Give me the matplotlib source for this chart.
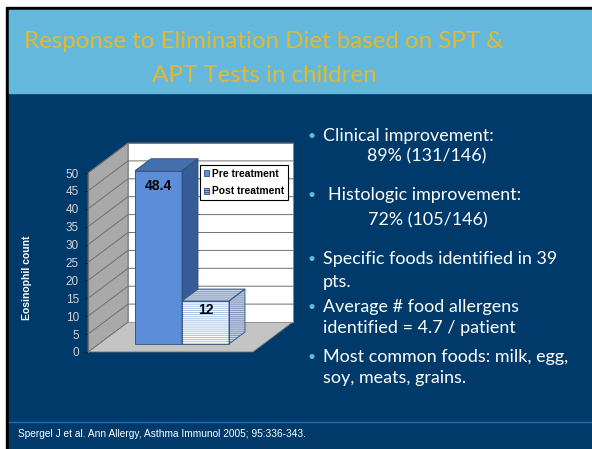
import matplotlib
matplotlib.use("Agg")
import matplotlib.pyplot as plt
from matplotlib.patches import Rectangle, Polygon

# data
categories = ["Pre treatment", "Post treatment"]
values = [48.4, 12]
value_labels = ["48.4", "12"]
y_ticks = [0, 5, 10, 15, 20, 25, 30, 35, 40, 45, 50]
y_label = "Eosinophil count"

title_lines = ["Response to Elimination Diet based on SPT &", "APT Tests in children"]
bullets = [
    ["Clinical improvement:", "89% (131/146)"],
    ["Histologic improvement:", "72% (105/146)"],
    ["Specific foods identified in 39", "pts."],
    ["Average # food allergens", "identified = 4.7 / patient"],
    ["Most common foods: milk, egg,", "soy, meats, grains."],
]
footer = "Spergel J et al. Ann Allergy, Asthma Immunol 2005; 95:336-343."

W, H = 592, 449
NAVY = "#003A6A"
BAND = "#63B8DC"
GOLD = "#E6B82E"
BULLET = "#5DB8E4"

fig = plt.figure(figsize=(W / 100, H / 100), dpi=100)

# slide background in pixel coordinates
bg = fig.add_axes([0, 0, 1, 1])
bg.set_xlim(0, W)
bg.set_ylim(H, 0)
bg.axis("off")
bg.add_patch(Rectangle((0, 0), W, H, color="white"))
bg.add_patch(Rectangle((6, 7), W, H, color="black"))
bg.add_patch(Rectangle((9, 10), W, H, color=NAVY))
bg.add_patch(Rectangle((9, 10), W, 83, color=BAND))
bg.plot([9, W], [422, 422], color="#1E6DB5", lw=1)

tfont = ["Lato", "DejaVu Sans"]
bg.text(264, 42, title_lines[0], color=GOLD, fontsize=17.4, family=tfont,
        ha="center", va="center")
bg.text(264, 75, title_lines[1], color=GOLD, fontsize=17.4, family=tfont,
        ha="center", va="center")

bullet_y = [(136, 156), (195, 220), (259, 282), (307, 328), (357, 378)]
bullet_x = [(323, 367), (328, 368), (323, 323), (323, 323), (323, 323)]
for (l1, l2), (y1, y2), (x1, x2) in zip(bullets, bullet_y, bullet_x):
    bg.text(312, y1, "\u2022", color=BULLET, fontsize=10, family=tfont,
            ha="center", va="center")
    bg.text(x1, y1, l1, color="white", fontsize=12.9, family=tfont, va="center")
    bg.text(x2, y2, l2, color="white", fontsize=12.9, family=tfont, va="center")

bg.text(18, 434, footer, color="white", fontsize=7.3,
        family=["Liberation Sans", "DejaVu Sans"], va="center")

# chart axes: front plane in data units
PXU, PYU = 47.0, 3.58       # pixels per x unit / per value unit
X0, Y0 = 88, 352            # pixel of (x=0, value=0)
ax = fig.add_axes([20 / W, (H - 360) / H, 280 / W, 230 / H])
ax.set_xlim((20 - X0) / PXU, (300 - X0) / PXU)
ax.set_ylim((Y0 - 360) / PYU, (Y0 - 130) / PYU)
ax.patch.set_alpha(0)

DX, DY = 40 / PXU, 30 / PYU  # full depth offset
XR = 3.51                    # floor width
VTOP = y_ticks[-1]

def P(x, v, z):
    return (x + z * DX, v + z * DY)

# floor and walls
ax.add_patch(Polygon([P(0, 0, 0), P(XR, 0, 0), P(XR, 0, 1), P(0, 0, 1)],
                     facecolor="#C4C4C4", edgecolor="#6E6E6E", lw=0.6, zorder=1))
ax.add_patch(Polygon([P(0, 0, 0), P(0, 0, 1), P(0, VTOP, 1), P(0, VTOP, 0)],
                     facecolor="#A9A9A9", edgecolor="#707070", lw=0.6, zorder=1))
ax.add_patch(Polygon([P(0, 0, 1), P(XR, 0, 1), P(XR, VTOP, 1), P(0, VTOP, 1)],
                     facecolor="white", edgecolor="#8C8C8C", lw=0.6, zorder=1))
for t in y_ticks[1:]:
    xs, ys = zip(P(0, t, 0), P(0, t, 1), P(XR, t, 1))
    ax.plot(xs, ys, color="#6F6F6F", lw=0.7, zorder=2)

# bars
z0, dz = 0.267, 0.4
bottom = z0 * DY
x_front = [1.0, 2.0]
face = ["#5B8DD8", "#A6C3EC"]
top_c = ["#4470AE", "#8E9FB8"]
side_c = ["#355C94", "#7F93B4"]
hatches = [None, "--------"]
plt.rcParams["hatch.linewidth"] = 0.8
label_off = [4.3, 2.5]

for i, (x, v) in enumerate(zip(x_front, values)):
    zb = 3 + 2 * i
    hc = "white" if hatches[i] else face[i]
    ax.bar(x, v, bottom=bottom, width=1, align="edge", color=face[i],
           hatch=hatches[i], edgecolor=hc, lw=0, zorder=zb, label=categories[i])
    ax.add_patch(Rectangle((x, bottom), 1, v, fill=False, edgecolor="#2F4F7F",
                           lw=0.6, zorder=zb + 0.5))
    xb = x - z0 * DX
    top = [P(xb, v, z0), P(xb + 1, v, z0), P(xb + 1, v, z0 + dz), P(xb, v, z0 + dz)]
    side = [P(xb + 1, 0, z0), P(xb + 1, 0, z0 + dz), P(xb + 1, v, z0 + dz), P(xb + 1, v, z0)]
    for poly, c in [(top, top_c[i]), (side, side_c[i])]:
        ax.add_patch(Polygon(poly, facecolor=c, hatch=hatches[i],
                             edgecolor="#C9D6EA" if hatches[i] else c, lw=0, zorder=zb))
        ax.add_patch(Polygon(poly, fill=False, edgecolor="#2F4F7F", lw=0.6, zorder=zb + 0.5))
    ax.text(x + 0.5, bottom + v - label_off[i], value_labels[i], ha="center", va="center",
            fontsize=10, fontweight="bold", color="black",
            family=["Liberation Sans", "DejaVu Sans"], zorder=zb + 1)

leg = ax.legend(loc="upper left", bbox_to_anchor=((200 - X0) / PXU, (Y0 - 165) / PYU),
                bbox_transform=ax.transData, frameon=True, fancybox=False,
                edgecolor="black", framealpha=1, borderpad=0.35, labelspacing=0.75,
                handlelength=0.55, handleheight=0.55, handletextpad=0.25,
                borderaxespad=0,
                prop={"family": ["Liberation Sans Narrow", "Liberation Sans"],
                      "weight": "bold", "size": 7.4})
leg.get_frame().set_linewidth(0.8)
leg.set_zorder(20)
for h in leg.legend_handles:
    h.set_edgecolor("#2F4F7F")
    h.set_linewidth(0.6)

# axis styling
for s in ["top", "right", "bottom"]:
    ax.spines[s].set_visible(False)
ax.spines["left"].set_position(("data", 0))
ax.spines["left"].set_bounds(0, VTOP)
ax.spines["left"].set_color("#707070")
ax.set_xticks([])
ax.set_yticks(y_ticks)
ax.tick_params(axis="y", colors="#1A1A1A", length=3, width=0.8, labelsize=8.5,
               labelcolor="#D4D4D4")
for lab in ax.get_yticklabels():
    lab.set_family(["Liberation Sans", "DejaVu Sans"])
ax.set_ylabel(y_label, color="white", fontweight="bold", fontsize=7.5,
              family=["Liberation Sans", "DejaVu Sans"])
ax.yaxis.set_label_coords((32 - 20) / 280, (360 - 278) / 230)

fig.savefig("out.png", dpi=100)
